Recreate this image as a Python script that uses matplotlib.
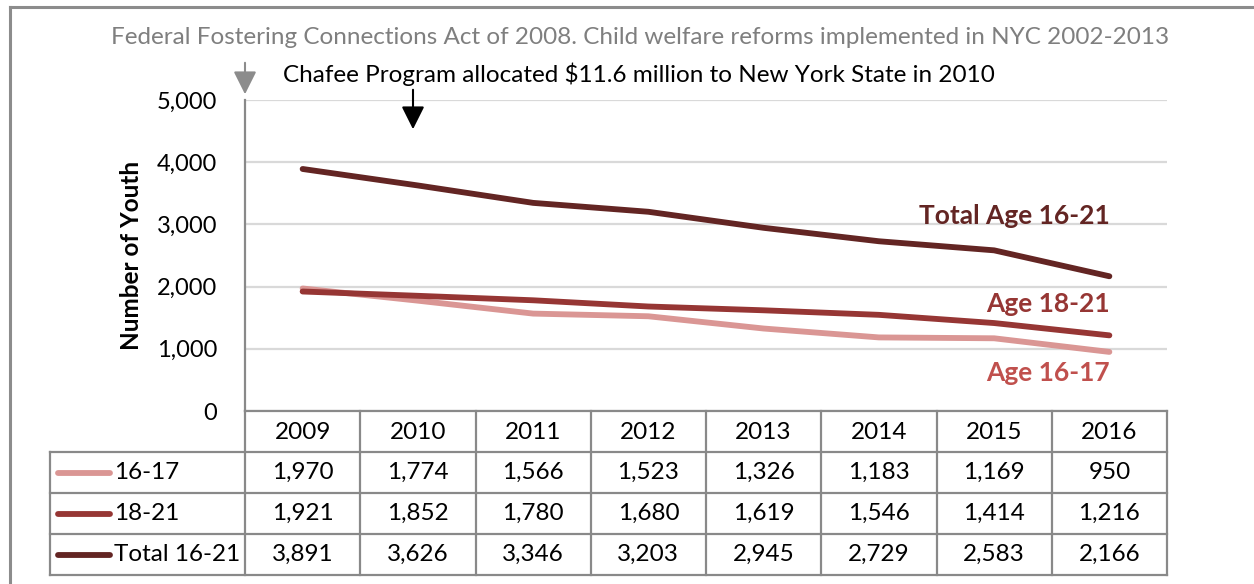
import matplotlib
matplotlib.use("Agg")
import matplotlib.pyplot as plt
from matplotlib.ticker import FuncFormatter

plt.rcParams['font.family'] = ['Lato', 'DejaVu Sans']

years = [2009, 2010, 2011, 2012, 2013, 2014, 2015, 2016]
age_16_17 = [1970, 1774, 1566, 1523, 1326, 1183, 1169, 950]
age_18_21 = [1921, 1852, 1780, 1680, 1619, 1546, 1414, 1216]
total_16_21 = [3891, 3626, 3346, 3203, 2945, 2729, 2583, 2166]

row_names = ["16-17", "18-21", "Total 16-21"]
series_labels = ["Age 16-17", "Age 18-21", "Total Age 16-21"]
colors = ["#DA9694", "#963634", "#632523"]
label_colors = ["#C0504D", "#963634", "#632523"]

title_gray = "Federal Fostering Connections Act of 2008. Child welfare reforms implemented in NYC 2002-2013"
title_black = "Chafee Program allocated $11.6 million to New York State in 2010"

W, H = 1254, 584
fig = plt.figure(figsize=(W / 100, H / 100), dpi=100)

# plot area in pixel units
x0, x1, ytop, ybot = 245, 1167, 100, 411
ax = fig.add_axes([x0 / W, 1 - ybot / H, (x1 - x0) / W, (ybot - ytop) / H])
ax.set_xlim(-0.5, len(years) - 0.5)
ax.set_ylim(0, 5000)
ax.set_yticks(range(0, 5001, 1000))
ax.yaxis.set_major_formatter(FuncFormatter(lambda v, p: f"{int(v):,}"))
ax.tick_params(axis='y', length=0, pad=20, labelsize=17)
ax.set_xticks([])
ax.grid(axis='y', color="#D9D9D9", linewidth=1.6)
ax.set_axisbelow(True)
for s in ["top", "right"]:
    ax.spines[s].set_visible(False)
for s in ["left", "bottom"]:
    ax.spines[s].set_color("#898989")
    ax.spines[s].set_linewidth(1.6)
ax.set_ylabel("Number of Youth", fontsize=17.5, fontweight='bold', labelpad=10)

xs = list(range(len(years)))
series = [age_16_17, age_18_21, total_16_21]
for vals, c in zip(series, colors):
    ax.plot(xs, vals, color=c, linewidth=4.2, solid_capstyle='round')

# end-of-line series labels
ax.text(7.0, 610, series_labels[0], ha='right', va='center', fontsize=19,
        fontweight='bold', color=label_colors[0])
ax.text(7.0, 1720, series_labels[1], ha='right', va='center', fontsize=19,
        fontweight='bold', color=label_colors[1])
ax.text(7.0, 3130, series_labels[2], ha='right', va='center', fontsize=19,
        fontweight='bold', color=label_colors[2])

# overlay in pixel coordinates for the data table, frame and annotations
ov = fig.add_axes([0, 0, 1, 1])
ov.set_xlim(0, W)
ov.set_ylim(H, 0)
ov.axis('off')
ov.patch.set_alpha(0)

line_kw = dict(color="#898989", linewidth=1.6)
col_w = (x1 - x0) / len(years)
col_edges = [x0 + i * col_w for i in range(len(years) + 1)]
row_edges = [ybot, 452, 493, 534, 575]
tab_left = 50

# vertical rules
for i, xe in enumerate(col_edges):
    ov.plot([xe, xe], [ybot, row_edges[-1]], **line_kw)
ov.plot([tab_left, tab_left], [row_edges[1], row_edges[-1]], **line_kw)
# horizontal rules
for ye in row_edges[1:]:
    ov.plot([tab_left, x1], [ye, ye], **line_kw)

cell_fs = 17.5
for i, yr in enumerate(years):
    cx = x0 + (i + 0.5) * col_w
    ov.text(cx, (row_edges[0] + row_edges[1]) / 2 + 1, str(yr), ha='center', va='center', fontsize=cell_fs)
    for r, vals in enumerate(series):
        cy = (row_edges[r + 1] + row_edges[r + 2]) / 2
        ov.text(cx, cy, f"{vals[i]:,}", ha='center', va='center', fontsize=cell_fs)

for r, (name, c) in enumerate(zip(row_names, colors)):
    cy = (row_edges[r + 1] + row_edges[r + 2]) / 2
    ov.plot([58, 110], [cy, cy], color=c, linewidth=4.2, solid_capstyle='round')
    ov.text(114, cy, name, ha='left', va='center', fontsize=cell_fs)

# outer frame
ov.plot([10, 10], [7, H], color="#8C8C8C", linewidth=2.2)
ov.plot([10, W], [7, 7], color="#8C8C8C", linewidth=2.2)

# annotations
ov.text(640, 38, title_gray, ha='center', va='center', fontsize=17.5, color="#7F7F7F")
ov.text(639, 74, title_black, ha='center', va='center', fontsize=17.5, color="black")
ov.annotate("", xy=(245, 97), xytext=(245, 60),
            arrowprops=dict(arrowstyle="-|>,head_length=0.7,head_width=0.35",
                            color="#8C8C8C", lw=1.5, mutation_scale=20))
ov.annotate("", xy=(413, 132), xytext=(413, 87),
            arrowprops=dict(arrowstyle="-|>,head_length=0.7,head_width=0.35",
                            color="black", lw=1.5, mutation_scale=20))

fig.savefig("out.png", dpi=100)
